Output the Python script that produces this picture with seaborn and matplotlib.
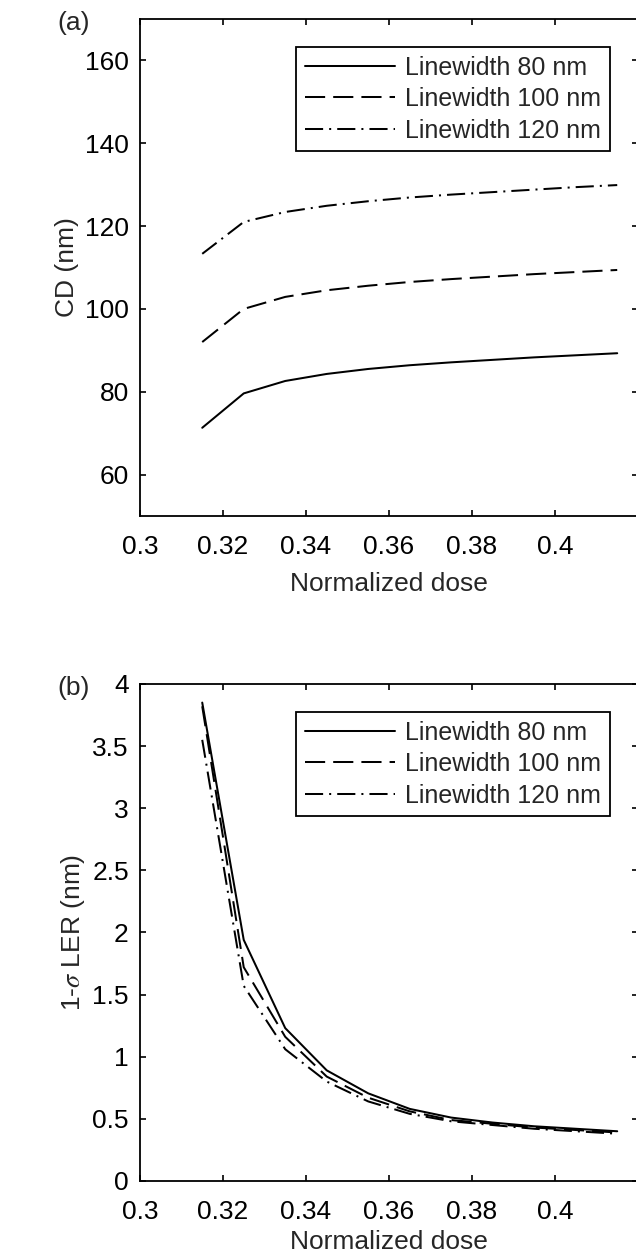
import matplotlib
matplotlib.use("Agg")
import matplotlib.pyplot as plt
from matplotlib.ticker import FormatStrFormatter
import numpy as np
import pandas as pd
import seaborn as sns

# normalized dose sampled on the curves
dose = [0.315, 0.325, 0.335, 0.345, 0.355, 0.365, 0.375, 0.385, 0.395, 0.405, 0.415]
series_names = ["Linewidth 80 nm", "Linewidth 100 nm", "Linewidth 120 nm"]

cd_80 = [71.3, 79.6, 82.6, 84.3, 85.5, 86.4, 87.1, 87.7, 88.3, 88.8, 89.3]
cd_100 = [92.0, 100.0, 102.9, 104.5, 105.6, 106.5, 107.2, 107.8, 108.4, 108.9, 109.4]
cd_120 = [113.3, 121.0, 123.4, 124.9, 126.0, 126.9, 127.6, 128.2, 128.8, 129.4, 129.9]

ler_80 = [3.85, 1.94, 1.23, 0.89, 0.705, 0.58, 0.51, 0.47, 0.44, 0.42, 0.40]
ler_100 = [3.82, 1.72, 1.16, 0.84, 0.67, 0.56, 0.49, 0.46, 0.43, 0.41, 0.39]
ler_120 = [3.55, 1.57, 1.06, 0.80, 0.64, 0.54, 0.48, 0.45, 0.42, 0.40, 0.38]

x_ticks = [0.3, 0.32, 0.34, 0.36, 0.38, 0.4]
cd_ticks = [60, 80, 100, 120, 140, 160]
ler_ticks = [0, 0.5, 1, 1.5, 2, 2.5, 3, 3.5, 4]

rows = []
for name, cd, ler in zip(series_names, [cd_80, cd_100, cd_120], [ler_80, ler_100, ler_120]):
    for d, c, l in zip(dose, cd, ler):
        rows.append({"dose": d, "cd": c, "ler": l, "series": name})
df = pd.DataFrame(rows)

sns.set_theme(style="ticks")
plt.rcParams["font.family"] = ["Liberation Sans", "DejaVu Sans"]
plt.rcParams["mathtext.fontset"] = "stix"

dash_map = {"Linewidth 80 nm": "", "Linewidth 100 nm": (10, 4), "Linewidth 120 nm": (9, 3, 1, 3)}
LW = 1.45

fig = plt.figure(figsize=(6.36, 12.57), dpi=100)
fig.patch.set_facecolor("white")
ax1 = fig.add_axes([0.2201, 0.5895, 0.7830, 0.3954])
ax2 = fig.add_axes([0.2201, 0.0605, 0.7830, 0.3954])

for ax, col, ylim, yticks, ylabel, tag, xpad in [
    (ax1, "cd", (50, 170), cd_ticks, "CD (nm)", "(a)", 9),
    (ax2, "ler", (0, 4), ler_ticks, r"1-$\sigma$ LER (nm)", "(b)", 4),
]:
    sns.lineplot(data=df, x="dose", y=col, style="series", dashes=dash_map,
                 color="black", linewidth=LW, estimator=None, ax=ax)
    ax.set_xlim(0.3, 0.42)
    ax.set_ylim(*ylim)
    ax.set_xticks(x_ticks)
    ax.set_yticks(yticks)
    ax.xaxis.set_major_formatter(FormatStrFormatter("%g"))
    ax.yaxis.set_major_formatter(FormatStrFormatter("%g"))
    ax.tick_params(direction="in", length=4.5, width=1.2, labelsize=19,
                   top=True, right=True, colors="black")
    ax.tick_params(axis="x", pad=14)
    ax.tick_params(axis="y", pad=8)
    for sp in ax.spines.values():
        sp.set_linewidth(1.3)
        sp.set_color("black")
    ax.set_xlabel("Normalized dose", fontsize=19, labelpad=xpad)
    ax.set_ylabel(ylabel, fontsize=19, labelpad=4)
    handles, labels = ax.get_legend_handles_labels()
    leg = ax.legend(handles, labels, loc="upper right", bbox_to_anchor=(0.943, 0.944),
                    borderaxespad=0, fontsize=18, handlelength=3.6, handletextpad=0.4,
                    labelspacing=0.3, borderpad=0.35, fancybox=False, framealpha=1)
    leg.get_frame().set_edgecolor("black")
    leg.get_frame().set_linewidth(1.3)
    for line in leg.get_lines():
        line.set_color("black")
        line.set_linewidth(LW)
    pos = ax.get_position()
    fig.text(74 / 636, pos.y1 - 4 / 1257, tag, fontsize=19, ha="center", va="center")

fig.savefig("out.png", dpi=100)
